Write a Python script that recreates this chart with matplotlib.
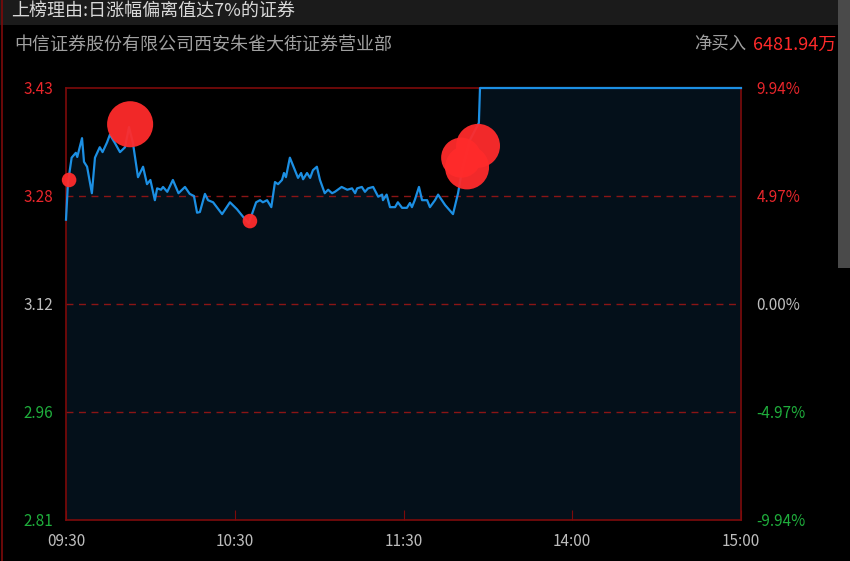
import matplotlib
matplotlib.use("Agg")
import matplotlib.pyplot as plt
from matplotlib.lines import Line2D
from matplotlib.patches import Rectangle

plt.rcParams['font.family'] = ['Noto Sans CJK SC', 'DejaVu Sans']

title_text = "上榜理由:日涨幅偏离值达7%的证券"
branch_name = "中信证券股份有限公司西安朱雀大街证券营业部"
net_buy = "6481.94万"

prev_close = 3.12
price_ticks = [3.43, 3.275, 3.12, 2.965, 2.81]
price_labels = ["3.43", "3.28", "3.12", "2.96", "2.81"]
pct_ticks = [9.94, 4.97, 0.0, -4.97, -9.94]
pct_labels = ["9.94%", "4.97%", "0.00%", "-4.97%", "-9.94%"]
time_ticks = [0, 60, 120, 180, 240]
time_labels = ["09:30", "10:30", "11:30", "14:00", "15:00"]

# минуты от открытия (торговые) и цена
minutes = [0, 0.7, 2, 3.5, 4, 5.7, 6.4, 7.5, 9.2, 10.3, 12, 13, 14.6, 15.6, 17.4,
           19.2, 21, 22.4, 23.8, 25.6, 27.4, 28.8, 30, 31.6, 32.4, 33.8, 34.5, 36,
           38, 40, 42.3, 44, 45.5, 46.6, 47.6, 49.4, 50.5, 52.3, 55.5, 58.3, 60.8,
           63.6, 65, 67.6, 69, 70, 71.5, 73, 74.3, 75.4, 76.8, 77.5, 78.2, 79.6,
           81.4, 82.5, 83.6, 84.3, 85.7, 86.8, 87.8, 89.2, 90.3, 92, 93.2, 94.6,
           95.6, 98, 100, 101.7, 102.8, 103.5, 105.2, 106.3, 107.4, 109.2, 111,
           112.4, 112.7, 114, 115.2, 117, 118, 119.5, 121.2, 122.3, 123, 124,
           125.5, 126.6, 128.4, 129.4, 131.2, 132.3, 134.8, 137.6, 139.4, 140.8,
           143.6, 146.8, 147.2, 240]
prices = [3.241, 3.294, 3.330, 3.337, 3.331, 3.358, 3.324, 3.317, 3.279, 3.330,
          3.345, 3.338, 3.352, 3.363, 3.351, 3.338, 3.345, 3.374, 3.351, 3.302,
          3.317, 3.292, 3.298, 3.269, 3.286, 3.284, 3.288, 3.281, 3.298, 3.279,
          3.288, 3.278, 3.275, 3.251, 3.252, 3.278, 3.269, 3.266, 3.249, 3.266,
          3.256, 3.242, 3.236, 3.266, 3.269, 3.266, 3.269, 3.259, 3.295, 3.292,
          3.298, 3.308, 3.302, 3.330, 3.312, 3.301, 3.308, 3.299, 3.308, 3.301,
          3.312, 3.317, 3.298, 3.279, 3.284, 3.279, 3.281, 3.288, 3.284, 3.286,
          3.279, 3.286, 3.288, 3.281, 3.286, 3.288, 3.274, 3.277, 3.269, 3.277,
          3.259, 3.259, 3.266, 3.258, 3.258, 3.265, 3.259, 3.269, 3.288, 3.269,
          3.269, 3.259, 3.269, 3.277, 3.262, 3.249, 3.279, 3.312, 3.355, 3.380,
          3.430, 3.430]

# сделки (кружки)
trade_minutes = [1.1, 22.8, 65.4, 140.5, 142.6, 146.5]
trade_prices = [3.298, 3.378, 3.239, 3.330, 3.316, 3.347]
trade_sizes = [110, 1100, 110, 830, 1000, 1000]

red = '#e8262b'
green = '#1fae3c'
gray = '#bdbdbd'
frame = '#7d0a0a'

fig = plt.figure(figsize=(8.5, 5.61), dpi=100, facecolor='black')

# шапка
fig.patches.append(Rectangle((0, 1 - 25 / 561), 1, 25 / 561, transform=fig.transFigure,
                             facecolor='#1b1b1b', edgecolor='none', zorder=0))
fig.text(11 / 850, 1 - 12 / 561, title_text, color='#d8d8d8', fontsize=13, va='center', ha='left')
fig.text(14 / 850, 1 - 45 / 561, branch_name, color='#a0a0a0', fontsize=13, va='center', ha='left')
fig.text(746 / 850, 1 - 45 / 561, "净买入", color='#a0a0a0', fontsize=12.5, va='center', ha='right')
fig.text(753 / 850, 1 - 45 / 561, net_buy, color='#ff2a2a', fontsize=13, va='center', ha='left',
         fontweight='medium')
fig.lines.append(Line2D([2 / 850, 2 / 850], [0, 1], transform=fig.transFigure,
                        color=frame, linewidth=1.2))

ax = fig.add_axes([66 / 850, 1 - 520 / 561, 675 / 850, 432 / 561])
ax.set_facecolor('black')

ax.fill_between(minutes, prices, price_ticks[-1], color='#04101a', linewidth=0, zorder=1)
for p in price_ticks[1:-1]:
    ax.axhline(p, color='#8a1515', linewidth=1, linestyle=(0, (5, 4)), zorder=2)
ax.plot(minutes, prices, color='#1c8fe3', linewidth=1.6, zorder=4, clip_on=False)
ax.scatter(trade_minutes, trade_prices, s=trade_sizes, color='#ff2b2b', alpha=0.95,
           edgecolors='none', zorder=5, clip_on=False)

ax.set_xlim(time_ticks[0], time_ticks[-1])
ax.set_ylim(price_ticks[-1], price_ticks[0])
ax.set_xticks(time_ticks)
ax.set_xticklabels(time_labels)
ax.set_yticks(price_ticks)
ax.set_yticklabels(price_labels)
ax.tick_params(axis='x', direction='in', length=7, color=frame, labelcolor=gray,
               labelsize=11, pad=9)
ax.tick_params(axis='y', length=0, labelsize=11, pad=9)
for lab, c in zip(ax.get_yticklabels(), [red, red, gray, green, green]):
    lab.set_color(c)
for s in ax.spines.values():
    s.set_color(frame)
    s.set_linewidth(1.2)
    s.set_zorder(3)

ax2 = ax.twinx()
ax2.set_ylim(pct_ticks[-1], pct_ticks[0])
ax2.set_yticks(pct_ticks)
ax2.set_yticklabels(pct_labels)
ax2.tick_params(axis='y', length=0, labelsize=11, pad=11)
for lab, c in zip(ax2.get_yticklabels(), [red, red, gray, green, green]):
    lab.set_color(c)
for s in ax2.spines.values():
    s.set_visible(False)

# полоса прокрутки справа
fig.patches.append(Rectangle((838 / 850, 1 - 268 / 561), 12 / 850, 268 / 561,
                             transform=fig.transFigure, facecolor='#4a4a4a',
                             edgecolor='none', zorder=10))

fig.savefig('out.png', dpi=100, facecolor='black')
